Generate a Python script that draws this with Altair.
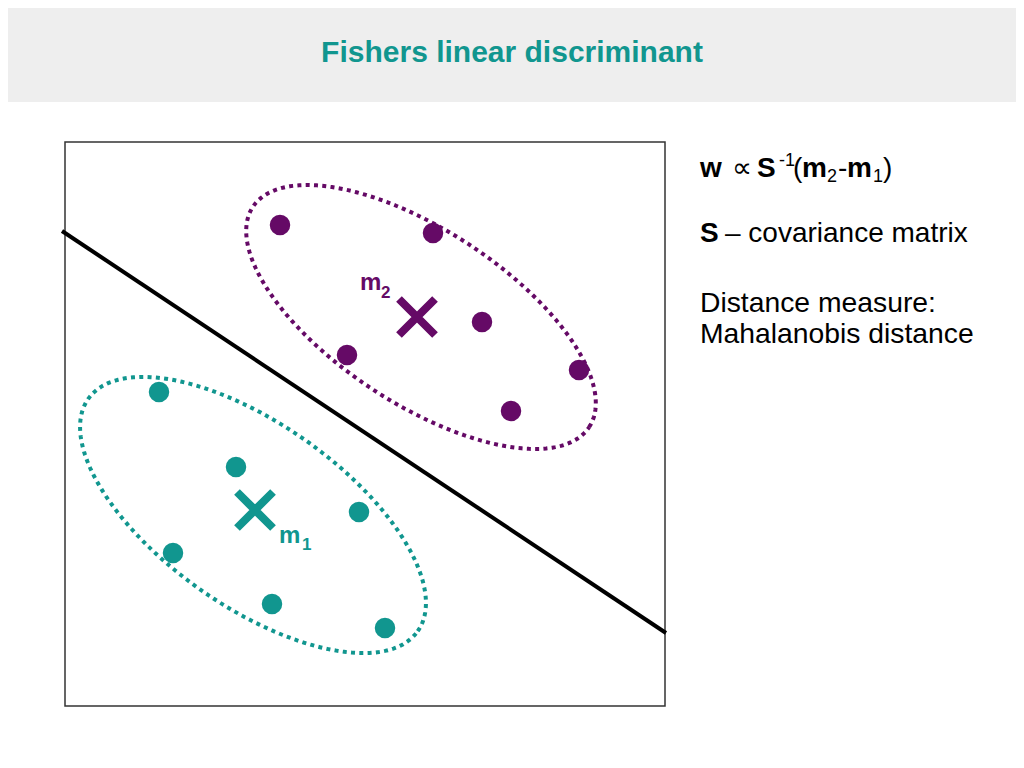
import altair as alt
import numpy as np
import pandas as pd

TEAL = "#11968f"
PURPLE = "#650a66"
FONT = "Liberation Sans"

# ---- data (box coordinates: x 0..600, y 0..564, y upwards) ----
class2_x = [215, 368, 417, 282, 514, 446]
class2_y = [481, 473, 384, 351, 336, 295]
class1_x = [94, 171, 294, 108, 207, 320]
class1_y = [314, 239, 194, 153, 102, 78]

mean_x = [352, 190]
mean_y = [389, 196]
mean_cls = ["m2", "m1"]

# discriminant line end points
line_x = [-3, 601]
line_y = [475, 73]

# ellipse parameters: centre x, centre y, semi-major, semi-minor, angle (deg)
ell2 = (356, 389, 201, 87, -33.2)
ell1 = (188, 191, 201.6, 91.3, -35.2)

XS = alt.Scale(domain=[0, 600], nice=False, zero=False)
YS = alt.Scale(domain=[0, 564], nice=False, zero=False)


def ellipse_df(p, n=240):
    cx, cy, a, b, ang = p
    t = np.linspace(0, 2 * np.pi, n + 1)
    th = np.deg2rad(ang)
    x = cx + a * np.cos(t) * np.cos(th) - b * np.sin(t) * np.sin(th)
    y = cy + a * np.cos(t) * np.sin(th) + b * np.sin(t) * np.cos(th)
    return pd.DataFrame({"x": x, "y": y, "i": np.arange(n + 1)})


def X(f="x"):
    return alt.X(f"{f}:Q", scale=XS, axis=None)


def Y(f="y"):
    return alt.Y(f"{f}:Q", scale=YS, axis=None)


# header band
header = alt.Chart(pd.DataFrame({"x": [-70], "x2": [960], "y": [604], "y2": [710]})).mark_rect(
    color="#eeeeee"
).encode(x=X(), x2="x2:Q", y=Y(), y2="y2:Q")

title = alt.Chart(pd.DataFrame({"x": [447], "y": [644], "t": ["Fishers linear discriminant"]})).mark_text(
    font=FONT, fontSize=30, fontWeight="bold", color=TEAL, align="center", baseline="alphabetic"
).encode(x=X(), y=Y(), text="t:N")

e2 = alt.Chart(ellipse_df(ell2)).mark_line(
    color=PURPLE, strokeWidth=4, strokeDash=[4, 4.3], strokeCap="butt"
).encode(x=X(), y=Y(), order="i:Q")
e1 = alt.Chart(ellipse_df(ell1)).mark_line(
    color=TEAL, strokeWidth=4, strokeDash=[4, 4.3], strokeCap="butt"
).encode(x=X(), y=Y(), order="i:Q")

sep = alt.Chart(pd.DataFrame({"x": line_x, "y": line_y})).mark_line(
    color="black", strokeWidth=4
).encode(x=X(), y=Y())

p2 = alt.Chart(pd.DataFrame({"x": class2_x, "y": class2_y})).mark_circle(
    color=PURPLE, size=420, opacity=1
).encode(x=X(), y=Y())
p1 = alt.Chart(pd.DataFrame({"x": class1_x, "y": class1_y})).mark_circle(
    color=TEAL, size=420, opacity=1
).encode(x=X(), y=Y())

means = alt.Chart(pd.DataFrame({"x": mean_x, "y": mean_y, "c": mean_cls})).mark_point(
    shape="M-1,-1L1,1M1,-1L-1,1", size=1300, strokeWidth=8, filled=False, opacity=1, strokeCap="butt"
).encode(
    x=X(), y=Y(),
    color=alt.Color("c:N", scale=alt.Scale(domain=["m2", "m1"], range=[PURPLE, TEAL]), legend=None),
)

# mean labels
lab_txt = ["m", "2", "m", "1"]
lab_x = [295, 316, 214, 237]
lab_y = [416, 408, 163, 156]
lab_size = [24, 17, 24, 17]
lab_c = ["m2", "m2", "m1", "m1"]
labels = alt.Chart(pd.DataFrame({"x": lab_x, "y": lab_y, "t": lab_txt, "s": lab_size, "c": lab_c})).mark_text(
    font=FONT, fontWeight="bold", align="left", baseline="alphabetic"
).encode(
    x=X(), y=Y(), text="t:N",
    size=alt.Size("s:Q", scale=None),
    color=alt.Color("c:N", scale=alt.Scale(domain=["m2", "m1"], range=[PURPLE, TEAL]), legend=None),
)

# right-hand text
bold_txt = ["w", "S", "m", "m", "S"]
bold_x = [635, 692, 737, 782, 635]
bold_y = [529, 529, 529, 529, 464]
bold_size = [28, 28, 28, 28, 28]

norm_txt = ["\u221d", "-1", "(", "2", "-", "1", ")",
            "\u2013 covariance matrix", "Distance measure:", "Mahalanobis distance"]
norm_x = [667, 714, 728, 762, 773, 808, 818, 660, 635, 635]
norm_y = [529, 540, 529, 524, 529, 524, 529, 464, 394, 363]
norm_size = [28, 18, 28, 18, 28, 18, 28, 28, 28.3, 28.3]

bold_t = alt.Chart(pd.DataFrame({"x": bold_x, "y": bold_y, "t": bold_txt, "s": bold_size})).mark_text(
    font=FONT, fontWeight="bold", align="left", baseline="alphabetic", color="black"
).encode(x=X(), y=Y(), text="t:N", size=alt.Size("s:Q", scale=None))
norm_t = alt.Chart(pd.DataFrame({"x": norm_x, "y": norm_y, "t": norm_txt, "s": norm_size})).mark_text(
    font=FONT, align="left", baseline="alphabetic", color="black"
).encode(x=X(), y=Y(), text="t:N", size=alt.Size("s:Q", scale=None))

chart = alt.layer(
    header, title, e2, e1, sep, p2, p1, means, labels, bold_t, norm_t
).resolve_scale(color="independent").properties(
    width=600, height=564,
    autosize=alt.AutoSizeParams(type="none"),
    padding={"left": 57, "top": 134, "right": 351, "bottom": 40},
    background="white",
).configure_view(stroke="#333333", strokeWidth=1.5)

chart.save("out.html", embed_options={"renderer": "svg", "actions": False})
